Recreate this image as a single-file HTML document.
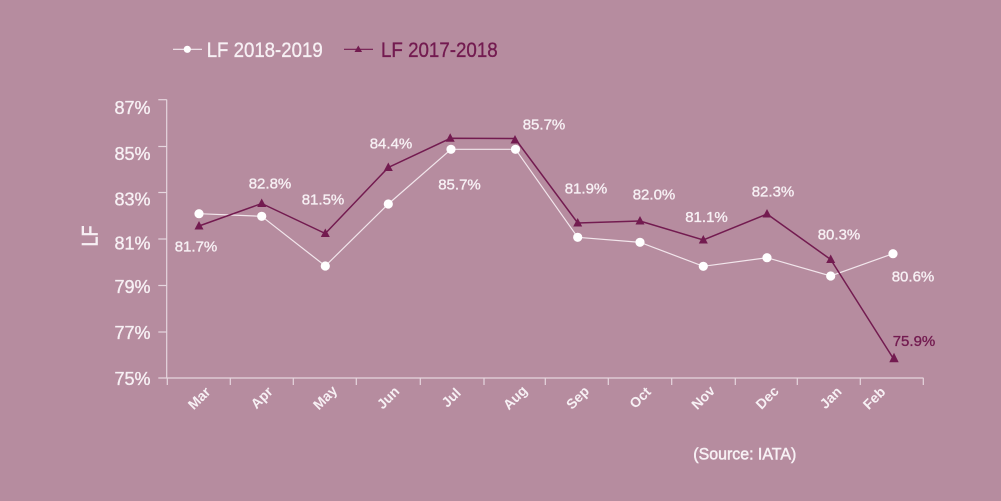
<!DOCTYPE html>
<html><head><meta charset="utf-8"><style>
html,body{margin:0;padding:0;background:#b68c9f;}
svg{display:block;}
text{font-family:"Liberation Sans",sans-serif;}
.w{fill:#f7f0f4;stroke:#f7f0f4;stroke-width:0.35;}
.p{fill:#731b50;stroke:#731b50;stroke-width:0.35;}
</style></head><body>
<svg width="1001" height="501" viewBox="0 0 1001 501" xmlns="http://www.w3.org/2000/svg">
<rect width="1001" height="501" fill="#b68c9f"/>
<!-- legend -->
<line x1="173" y1="49.3" x2="202" y2="49.3" stroke="#f4eaf0" stroke-width="1.2"/>
<circle cx="187.3" cy="49.3" r="3.6" fill="#ffffff"/>
<text class="w" x="206.7" y="56.8" font-size="21" textLength="116" lengthAdjust="spacingAndGlyphs">LF 2018-2019</text>
<line x1="344" y1="49.3" x2="373" y2="49.3" stroke="#731b50" stroke-width="1.2"/>
<polygon points="358.3,45.5 354.5,52 362.1,52" fill="#731b50"/>
<text class="p" x="381" y="56.8" font-size="21" textLength="116.7" lengthAdjust="spacingAndGlyphs">LF 2017-2018</text>
<!-- axes -->
<g stroke="#e6d6de" stroke-width="1.2" fill="none">
<line x1="166.7" y1="99.5" x2="166.7" y2="378"/>
<line x1="158.3" y1="99.7" x2="166.7" y2="99.7"/>
<line x1="158.3" y1="146.5" x2="166.7" y2="146.5"/>
<line x1="158.3" y1="192.5" x2="166.7" y2="192.5"/>
<line x1="158.3" y1="239" x2="166.7" y2="239"/>
<line x1="158.3" y1="285.5" x2="166.7" y2="285.5"/>
<line x1="158.3" y1="332" x2="166.7" y2="332"/>
<line x1="158.3" y1="378" x2="923.5" y2="378"/>
<line x1="167.3" y1="378" x2="167.3" y2="385"/>
<line x1="230.3" y1="378" x2="230.3" y2="385"/>
<line x1="293.3" y1="378" x2="293.3" y2="385"/>
<line x1="356.3" y1="378" x2="356.3" y2="385"/>
<line x1="420.3" y1="378" x2="420.3" y2="385"/>
<line x1="484" y1="378" x2="484" y2="385"/>
<line x1="545.3" y1="378" x2="545.3" y2="385"/>
<line x1="608.3" y1="378" x2="608.3" y2="385"/>
<line x1="671.7" y1="378" x2="671.7" y2="385"/>
<line x1="735.3" y1="378" x2="735.3" y2="385"/>
<line x1="797.3" y1="378" x2="797.3" y2="385"/>
<line x1="860.3" y1="378" x2="860.3" y2="385"/>
<line x1="923.3" y1="378" x2="923.3" y2="385"/>
</g>
<!-- y labels -->
<g font-size="18" class="w" text-anchor="end">
<text x="150.5" y="114">87%</text>
<text x="150.5" y="160">85%</text>
<text x="150.5" y="205.5">83%</text>
<text x="150.5" y="249.5">81%</text>
<text x="150.5" y="293.2">79%</text>
<text x="150.5" y="339.2">77%</text>
<text x="150.5" y="384.8">75%</text>
</g>
<text class="w" transform="translate(97.5,236) rotate(-90)" font-size="22" text-anchor="middle" textLength="21" lengthAdjust="spacingAndGlyphs" style="stroke-width:0.6">LF</text>
<!-- x labels -->
<g font-size="14" font-weight="bold" fill="#f7f0f4" text-anchor="middle" dominant-baseline="central">
<text transform="translate(199,398) rotate(-45)">Mar</text>
<text transform="translate(261.5,397.5) rotate(-45)">Apr</text>
<text transform="translate(325,397.5) rotate(-45)">May</text>
<text transform="translate(388,397.5) rotate(-45)">Jun</text>
<text transform="translate(451,397.5) rotate(-45)">Jul</text>
<text transform="translate(515,397.5) rotate(-45)">Aug</text>
<text transform="translate(577.5,397.5) rotate(-45)">Sep</text>
<text transform="translate(640,397.5) rotate(-45)">Oct</text>
<text transform="translate(703,397.5) rotate(-45)">Nov</text>
<text transform="translate(767,397.5) rotate(-45)">Dec</text>
<text transform="translate(830.5,397.5) rotate(-45)">Jan</text>
<text transform="translate(874,398) rotate(-45)">Feb</text>
</g>
<!-- white series -->
<polyline fill="none" stroke="#f2e6ec" stroke-width="1.2" points="199,213.7 261.7,216.3 325.3,266 388.3,204 451,149.3 515.5,149.3 577.7,237.3 640,242.3 703.3,266.3 767,257.7 830.7,276 893,253.7"/>
<g fill="#ffffff">
<circle cx="199" cy="213.7" r="4.6"/>
<circle cx="261.7" cy="216.3" r="4.6"/>
<circle cx="325.3" cy="266" r="4.6"/>
<circle cx="388.3" cy="204" r="4.6"/>
<circle cx="451" cy="149.3" r="4.6"/>
<circle cx="515.5" cy="149.3" r="4.6"/>
<circle cx="577.7" cy="237.3" r="4.6"/>
<circle cx="640" cy="242.3" r="4.6"/>
<circle cx="703.3" cy="266.3" r="4.6"/>
<circle cx="767" cy="257.7" r="4.6"/>
<circle cx="830.7" cy="276" r="4.6"/>
<circle cx="893" cy="253.7" r="4.6"/>
</g>
<!-- purple series -->
<polyline fill="none" stroke="#731b50" stroke-width="1.5" points="199,226 261.7,203.5 325.3,233.5 388.3,167.5 450.5,138.3 515,138.5 577.7,223 640,221 703.3,240 767,214 830.7,259.5 893,358"/>
<g fill="#731b50">
<polygon points="199,221 194.5,229.5 203.5,229.5"/>
<polygon points="261.7,198.5 257.2,207 266.2,207"/>
<polygon points="325.3,228.5 320.8,237 329.8,237"/>
<polygon points="388.3,162.5 383.8,171 392.8,171"/>
<polygon points="450.2,133.3 445.7,141.8 454.7,141.8"/>
<polygon points="515,135 510.5,143.5 519.5,143.5"/>
<polygon points="577.7,218 573.2,226.5 582.2,226.5"/>
<polygon points="640,216 635.5,224.5 644.5,224.5"/>
<polygon points="703.3,235 698.8,243.5 707.8,243.5"/>
<polygon points="767,209 762.5,217.5 771.5,217.5"/>
<polygon points="830.7,254.5 826.2,263 835.2,263"/>
<polygon points="894,352.7 889.3,362.3 898.7,362.3"/>
</g>
<!-- data labels -->
<g font-size="15" class="w" text-anchor="middle">
<text x="196" y="251.4">81.7%</text>
<text x="270" y="188.7">82.8%</text>
<text x="323" y="204.7">81.5%</text>
<text x="391" y="148.7">84.4%</text>
<text x="459.5" y="189.7">85.7%</text>
<text x="544" y="129.7">85.7%</text>
<text x="586" y="193.7">81.9%</text>
<text x="654" y="199.7">82.0%</text>
<text x="706.5" y="222.1">81.1%</text>
<text x="773" y="196.4">82.3%</text>
<text x="839" y="239.7">80.3%</text>
<text x="913" y="281.4">80.6%</text>
</g>
<text class="p" x="914" y="346.1" font-size="15" text-anchor="middle">75.9%</text>
<text class="w" x="693.3" y="459.3" font-size="16.5" textLength="103" lengthAdjust="spacingAndGlyphs" style="stroke-width:0.5">(Source: IATA)</text>
</svg>
</body></html>
